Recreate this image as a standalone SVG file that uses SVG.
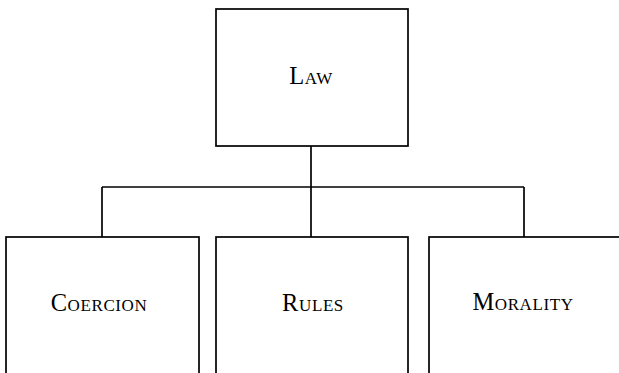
<svg xmlns="http://www.w3.org/2000/svg" width="619" height="373" viewBox="0 0 619 373">
  <style>
    .box { fill: #ffffff; stroke: #000000; stroke-width: 1.7; }
    .link { fill: none; stroke: #000000; stroke-width: 1.7; }
    .label { font-family: "Liberation Serif", "Times New Roman", serif; fill: #000000; text-anchor: middle; letter-spacing: 0.6px; }
    .cap { font-size: 24.5px; }
    .sc { font-size: 17px; }
  </style>
  <rect width="619" height="373" fill="#ffffff"/>

  <!-- tree links: trunk from the top box, crossbar, three drops -->
  <g id="connectors">
    <path class="link" d="M311 146 V187"/>
    <path class="link" d="M102 187 H524"/>
    <path class="link" d="M102 187 V237"/>
    <path class="link" d="M311 187 V237"/>
    <path class="link" d="M524 187 V237"/>
  </g>

  <g id="law">
    <rect class="box" x="216" y="9" width="192" height="137"/>
    <text class="label" x="311" y="84"><tspan class="cap">L</tspan><tspan class="sc">AW</tspan></text>
  </g>

  <!-- lower boxes run past the bottom edge -->
  <g id="coercion">
    <rect class="box" x="6" y="237" width="193" height="150"/>
    <text class="label" x="99" y="311"><tspan class="cap">C</tspan><tspan class="sc">OERCION</tspan></text>
  </g>

  <g id="rules">
    <rect class="box" x="216" y="237" width="192" height="150"/>
    <text class="label" x="313" y="311"><tspan class="cap">R</tspan><tspan class="sc">ULES</tspan></text>
  </g>

  <g id="morality">
    <rect class="box" x="429" y="237" width="200" height="150"/>
    <text class="label" x="523" y="310"><tspan class="cap">M</tspan><tspan class="sc">ORALITY</tspan></text>
  </g>
</svg>
